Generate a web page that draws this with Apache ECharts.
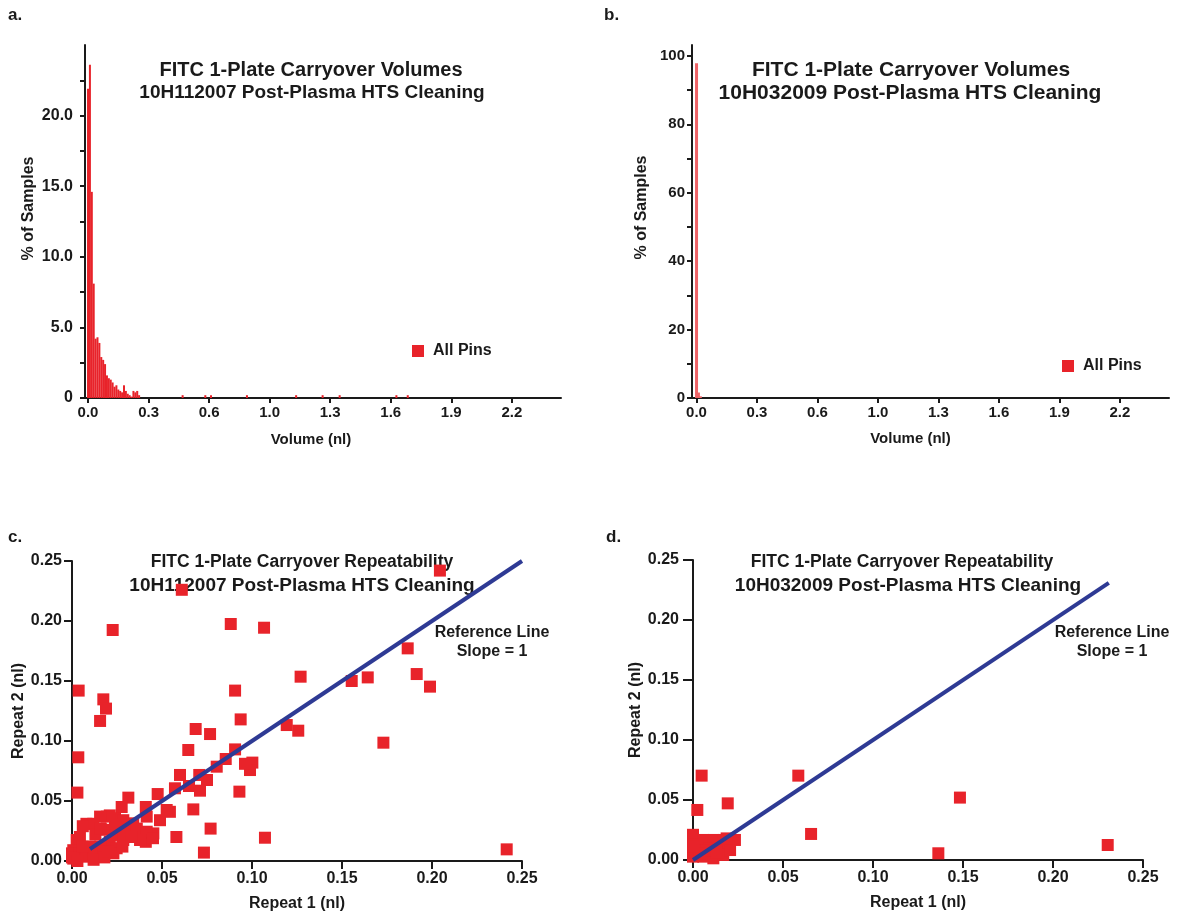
<!DOCTYPE html>
<html>
<head>
<meta charset="utf-8">
<script src="https://cdn.jsdelivr.net/npm/echarts@6/dist/echarts.min.js"></script>
<style>
html,body{margin:0;padding:0;background:#fff;}
#main{width:1184px;height:917px;}
</style>
</head>
<body>
<div id="main"></div>
<script>
// ---------- DATA ----------
// Panel a: histogram (bin centre in nl, % of samples)
const histAX = [0,0.01,0.02,0.03,0.04,0.05,0.06,0.07,0.08,0.09,0.10,0.11,0.12,0.13,0.14,0.15,0.16,0.17,0.18,0.19,0.20,0.21,0.22,0.23,0.24,0.25,0.26,0.27,0.50,0.62,0.65,0.84,1.10,1.24,1.33,1.63,1.69];
const histAY = [21.9,23.6,14.6,8.1,4.2,4.3,3.9,2.9,2.7,2.4,1.6,1.4,1.3,1.1,0.8,0.9,0.6,0.5,0.4,0.9,0.5,0.3,0.2,0.1,0.5,0.4,0.5,0.2,0.2,0.2,0.2,0.2,0.2,0.2,0.2,0.2,0.2];
// Panel b: histogram
const histBX = [0,0.01,0.02];
const histBY = [97.9,1.6,0.5];
// Tick values
const volTicks = [0,0.32,0.64,0.96,1.28,1.6,1.92,2.24];
const pctLabelsA = [0,5,10,15,20];
const pctTickMarksA = [0,2.5,5,7.5,10,12.5,15,17.5,20,22.5];
const pctLabelsB = [0,20,40,60,80,100];
const pctTickMarksB = [0,10,20,30,40,50,60,70,80,90,100];
// Panel c: repeat 1 vs repeat 2 (nl)
const scatterC = [
[0.061,0.226],[0.0226,0.1925],[0.0882,0.1975],[0.1067,0.1944],[0.0037,0.142],[0.0174,0.1347],[0.0189,0.127],[0.0156,0.1167],
[0.0906,0.142],[0.0937,0.118],[0.0035,0.0864],[0.003,0.057],[0.0687,0.110],[0.0767,0.1058],[0.0646,0.0925],[0.0906,0.093],
[0.0854,0.085],[0.0804,0.0786],[0.1002,0.082],[0.0989,0.0758],[0.0961,0.081],[0.060,0.0717],[0.0707,0.0717],[0.075,0.0675],
[0.093,0.0578],[0.0711,0.0586],[0.065,0.0625],[0.0572,0.0606],[0.0476,0.0558],[0.0313,0.0528],[0.0674,0.043],[0.0544,0.041],
[0.0489,0.034],[0.0452,0.023],[0.041,0.045],[0.0415,0.037],[0.0276,0.045],[0.0239,0.0356],[0.0193,0.037],[0.058,0.020],
[0.077,0.027],[0.0733,0.007],[0.1072,0.0194],[0.041,0.016],[0.0378,0.023],[0.034,0.0314],[0.0304,0.0258],
[0.2044,0.242],[0.1865,0.1772],[0.127,0.1536],[0.1554,0.150],[0.1643,0.153],[0.1915,0.1558],[0.1989,0.1453],[0.1193,0.1133],
[0.1257,0.1086],[0.173,0.0986],[0.2415,0.0097],
[0.0526,0.0425],[0.021,0.038],[0.0156,0.037],[0.0285,0.034],[0.008,0.031],[0.0118,0.031],[0.006,0.029],[0.0044,0.020],
[0.0026,0.0175],[0.0193,0.026],[0.0248,0.0217],[0.030,0.026],[0.036,0.027],[0.0415,0.0244],[0.045,0.019],[0.0378,0.0175],
[0.0285,0.0175],[0.021,0.016],[0.0156,0.012],[0.01,0.012],[0.0007,0.009],[0.0,0.0064],[0.0044,0.0064],[0.008,0.0036],
[0.0007,0.002],[0.0118,0.0064],[0.0174,0.0078],[0.0248,0.0106],[0.023,0.0064],[0.0,0.003],[0.003,0.0],[0.012,0.001],
[0.018,0.003],[0.013,0.022],[0.016,0.027],[0.025,0.03],[0.02,0.008],[0.028,0.012],[0.033,0.02],[0.006,0.012]
];
// Panel d
const scatterD = [
[0.0048,0.0703],[0.0024,0.0417],[0.0193,0.0472],[0.0585,0.0703],[0.0656,0.0217],[0.1483,0.052],[0.1363,0.0056],[0.2304,0.0125],
[0.0,0.021],[0.0057,0.0167],[0.0113,0.0167],[0.0168,0.0167],[0.0233,0.0167],[0.0,0.0127],[0.0039,0.0083],[0.0094,0.0097],
[0.015,0.0125],[0.0196,0.011],[0.0,0.0028],[0.0057,0.0028],[0.0113,0.0014],[0.0168,0.0042],[0.0206,0.0083],[0.0187,0.018],
[0.0076,0.0083],[0.0037,0.0056],[0.0,0.011],[0.013,0.006]
];
// Reference lines, slope = 1
const refLineC = [[0.01,0.01],[0.25,0.25]];
const refLineD = [[0,0],[0.231,0.231]];

// ---------- STYLE ----------
const FONT = 'Liberation Sans, Arial, sans-serif';
const INK = '#1a1a1a';
const RED = '#e8232a';
const BLUE = '#2e3a94';

function axisBase(fs, tickLen) {
  return {
    axisLine: {show: true, onZero: false, lineStyle: {color: INK, width: 2}},
    axisTick: {show: true, length: tickLen || 5, lineStyle: {color: INK, width: 2}},
    splitLine: {show: false},
    axisLabel: {color: INK, fontFamily: FONT, fontWeight: 'bold', fontSize: fs},
    nameTextStyle: {color: INK, fontFamily: FONT, fontWeight: 'bold', fontSize: fs},
    nameLocation: 'middle'
  };
}
function merge(a, b) {
  const o = Object.assign({}, a);
  for (const k in b) {
    if (b[k] && typeof b[k] === 'object' && !Array.isArray(b[k]) && a[k] && typeof a[k] === 'object') o[k] = Object.assign({}, a[k], b[k]);
    else o[k] = b[k];
  }
  return o;
}

const volFmt = v => Number(v).toFixed(1);
const pctFmtA = v => (v === 0 ? '0' : Number(v).toFixed(1));
const nameStyle = (fs, extra) => Object.assign({color: INK, fontFamily: FONT, fontWeight: 'bold', fontSize: fs}, extra || {});

const xAxes = [
  merge(axisBase(15), {gridIndex: 0, type: 'value', min: -0.016, max: 2.5, name: 'Volume (nl)', nameGap: 34,
    nameTextStyle: nameStyle(15, {padding: [0, 24, 0, 0]}),
    axisTick: {customValues: volTicks}, axisLabel: {customValues: volTicks, formatter: volFmt, margin: 7}}),
  merge(axisBase(15), {gridIndex: 1, type: 'value', min: -0.024, max: 2.5, name: 'Volume (nl)', nameGap: 33,
    nameTextStyle: nameStyle(15, {padding: [0, 40, 0, 0]}),
    axisTick: {customValues: volTicks}, axisLabel: {customValues: volTicks, formatter: volFmt, margin: 7}}),
  merge(axisBase(16, 8), {gridIndex: 2, type: 'value', min: 0, max: 0.25, interval: 0.05, name: 'Repeat 1 (nl)', nameGap: 35,
    axisLabel: {formatter: v => v.toFixed(2), margin: 10}}),
  merge(axisBase(16, 8), {gridIndex: 3, type: 'value', min: 0, max: 0.25, interval: 0.05, name: 'Repeat 1 (nl)', nameGap: 35,
    axisLabel: {formatter: v => v.toFixed(2), margin: 10}})
];
const yAxes = [
  merge(axisBase(16), {gridIndex: 0, type: 'value', min: 0, max: 25, name: '% of Samples', nameGap: 48,
    nameTextStyle: nameStyle(16, {padding: [0, 0, 0, 26]}),
    axisTick: {customValues: pctTickMarksA}, axisLabel: {customValues: pctLabelsA, formatter: pctFmtA, margin: 12}}),
  merge(axisBase(15), {gridIndex: 1, type: 'value', min: 0, max: 103.2, name: '% of Samples', nameGap: 42,
    nameTextStyle: nameStyle(16, {padding: [0, 0, 0, 28]}),
    axisTick: {customValues: pctTickMarksB}, axisLabel: {customValues: pctLabelsB, margin: 7}}),
  merge(axisBase(16, 8), {gridIndex: 2, type: 'value', min: 0, max: 0.25, interval: 0.05, name: 'Repeat 2 (nl)', nameGap: 45,
    axisLabel: {formatter: v => v.toFixed(2), margin: 10}}),
  merge(axisBase(16, 10), {gridIndex: 3, type: 'value', min: 0, max: 0.25, interval: 0.05, name: 'Repeat 2 (nl)', nameGap: 47,
    axisLabel: {formatter: v => v.toFixed(2), margin: 14}})
];

function centerText(x, y, txt, fs, lh) {
  return {type: 'text', x: x, y: y, style: {text: txt, fill: INK, font: 'bold ' + fs + 'px ' + FONT, textAlign: 'center', textVerticalAlign: 'middle', lineHeight: lh || fs + 4}};
}
function leftText(x, y, txt, fs) {
  return {type: 'text', x: x, y: y, style: {text: txt, fill: INK, font: 'bold ' + fs + 'px ' + FONT, textAlign: 'left', textVerticalAlign: 'middle'}};
}

const legendText = {color: INK, fontFamily: FONT, fontWeight: 'bold', fontSize: 16, padding: [0, 0, 0, 4]};

const option = {
  animation: false,
  backgroundColor: '#ffffff',
  grid: [
    {left: 85, top: 45, width: 476, height: 353},
    {left: 692, top: 45, width: 477, height: 353},
    {left: 72, top: 561, width: 450, height: 300},
    {left: 693, top: 560, width: 450, height: 300}
  ],
  xAxis: xAxes,
  yAxis: yAxes,
  legend: [
    {left: 412, top: 343, padding: 0, icon: 'rect', itemWidth: 12, itemHeight: 12, selectedMode: false,
      data: [{name: 'All Pins', itemStyle: {color: RED}}], textStyle: legendText},
    {left: 1062, top: 358, padding: 0, icon: 'rect', itemWidth: 12, itemHeight: 12, selectedMode: false,
      data: [{name: 'All Pins', itemStyle: {color: RED}}], textStyle: legendText}
  ],
  series: [
    {type: 'bar', name: 'All Pins', xAxisIndex: 0, yAxisIndex: 0, barWidth: 2,
      itemStyle: {color: RED}, data: histAX.map((x, i) => [x, histAY[i]])},
    {type: 'bar', name: 'All Pins', xAxisIndex: 1, yAxisIndex: 1, barWidth: 3,
      itemStyle: {color: '#ef6468'}, data: histBX.map((x, i) => [x, histBY[i]])},
    {type: 'scatter', name: 'Pins c', xAxisIndex: 2, yAxisIndex: 2, symbol: 'rect', symbolSize: 12, clip: false,
      itemStyle: {color: RED, opacity: 1}, data: scatterC},
    {type: 'line', name: 'Reference c', xAxisIndex: 2, yAxisIndex: 2, symbol: 'none', z: 5,
      lineStyle: {color: BLUE, width: 4}, data: refLineC},
    {type: 'scatter', name: 'Pins d', xAxisIndex: 3, yAxisIndex: 3, symbol: 'rect', symbolSize: 12, clip: false,
      itemStyle: {color: RED, opacity: 1}, data: scatterD},
    {type: 'line', name: 'Reference d', xAxisIndex: 3, yAxisIndex: 3, symbol: 'none', z: 5,
      lineStyle: {color: BLUE, width: 4}, data: refLineD}
  ],
  graphic: [
    leftText(8, 15, 'a.', 17),
    leftText(604, 15, 'b.', 17),
    leftText(8, 537, 'c.', 17),
    leftText(606, 537, 'd.', 17),
    centerText(311, 70, 'FITC 1-Plate Carryover Volumes', 20),
    centerText(312, 93, '10H112007 Post-Plasma HTS Cleaning', 19),
    centerText(911, 70, 'FITC 1-Plate Carryover Volumes', 21),
    centerText(910, 93, '10H032009 Post-Plasma HTS Cleaning', 21),
    centerText(302, 562, 'FITC 1-Plate Carryover Repeatability', 17.5),
    centerText(302, 586, '10H112007 Post-Plasma HTS Cleaning', 19),
    centerText(902, 562, 'FITC 1-Plate Carryover Repeatability', 17.5),
    centerText(908, 586, '10H032009 Post-Plasma HTS Cleaning', 19),
    centerText(492, 642, 'Reference Line\nSlope = 1', 16, 19),
    centerText(1112, 642, 'Reference Line\nSlope = 1', 16, 19)
  ]
};

const chart = echarts.init(document.getElementById('main'), null, {renderer: 'canvas'});
chart.setOption(option);
</script>
</body>
</html>
